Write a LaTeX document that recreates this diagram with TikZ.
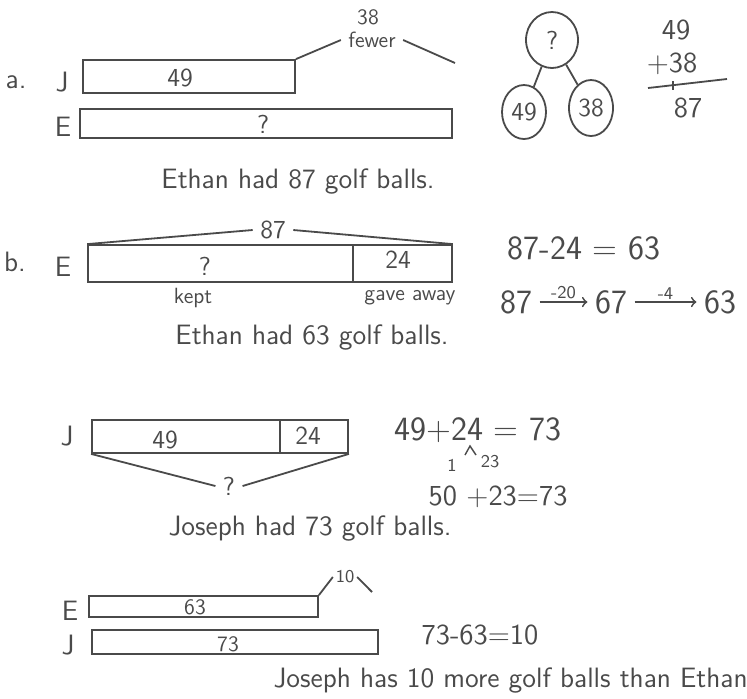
\documentclass[tikz,border=0pt]{standalone}
\usepackage{tikz}
\usetikzlibrary{shapes.geometric,fit}

\definecolor{ink}{HTML}{4A4A4A}

\tikzset{
  bar/.style={draw=ink,line width=0.9pt,inner sep=0pt},
  bubble/.style={ellipse,draw=ink,line width=0.9pt,inner sep=0pt},
  hw/.style={text=ink,font=\sffamily\fontsize{14}{16}\selectfont},
  num/.style={text=ink,font=\sffamily\fontsize{13}{15}\selectfont},
  sm/.style={text=ink,font=\sffamily\fontsize{11}{12}\selectfont},
  tiny/.style={text=ink,font=\sffamily\fontsize{9}{10}\selectfont,inner sep=1pt},
  eq/.style={text=ink,font=\sffamily\fontsize{17}{19}\selectfont},
  eqs/.style={text=ink,font=\sffamily\fontsize{14.5}{16}\selectfont},
}

\begin{document}
\begin{tikzpicture}[x=0.5pt,y=-0.5pt,>=to,ink,line width=0.9pt]
  \useasboundingbox (0,0) rectangle (747,698);

  % a.
  \node[hw] (la) at (16,82) {a.};
  \node[hw] (jAl) at (62,82) {J};
  \node[bar,fit={(83,60)(295,93)}] (jA) {};
  \node[num] (jAv) at (180,78) {49};
  \node[hw] (eAl) at (63,127) {E};
  \node[bar,fit={(80,109)(452,138)}] (eA) {};
  \node[num] (eAv) at (263,124) {?};
  \node[sm] (fewN) at (368,17) {38};
  \node[sm] (fewer) at (372,40) {fewer};
  \coordinate (fewEnd) at (455,63);
  \draw (jA.north east) -- (fewer.west);
  \draw (fewer.east) -- (fewEnd);

  \node[bubble,num,minimum width=26pt,minimum height=28pt] (whole) at (552,40) {?};
  \node[bubble,num,minimum width=22pt,minimum height=27pt] (partA) at (524,112) {49};
  \node[bubble,num,minimum width=22pt,minimum height=28pt] (partB) at (591,108) {38};
  \draw (whole) -- (partA);
  \draw (whole) -- (partB);

  \node[eqs] (addA) at (676,30) {49};
  \node[eqs] (addB) at (672,64) {+38};
  \node[eqs] (addSum) at (688,108) {87};
  \coordinate (ruleL) at (648,88);
  \coordinate (ruleR) at (727,79);
  \draw (ruleL) -- (ruleR);
  \draw (673,81) -- (673,90);

  \node[hw] (eAns) at (298,182) {Ethan had 87 golf balls.};

  % b.
  \node[hw] (lb) at (15,262) {b.};
  \node[hw] (eBl) at (63,267) {E};
  \node[bar,fit={(88,245)(353,282)}] (kept) {};
  \node[bar,fit={(353,245)(452,282)}] (gave) {};
  \node[num] (keptV) at (205,266) {?};
  \node[num] (gaveV) at (398,260) {24};
  \node[sm] (keptL) at (193,298) {kept};
  \node[sm] (gaveL) at (410,298) {gave away};
  \node[num] (tot) at (273,230) {87};
  \draw (kept.north west) -- (tot.west);
  \draw (tot.east) -- (gave.north east);

  \node[eq] (subB) at (584,248) {87-24 = 63};
  \node[eq] (s87) at (516,302) {87};
  \node[eq] (s67) at (611,302) {67};
  \node[eq] (s63) at (720,302) {63};
  \draw[->] (s87) -- node[tiny,above] {-20} (s67);
  \draw[->] (s67) -- node[tiny,above] {-4} (s63);

  \node[hw] (eBAns) at (312,337) {Ethan had 63 golf balls.};

  % c.
  \node[hw] (jCl) at (67,436) {J};
  \node[bar,fit={(92,420)(280,453)}] (jC1) {};
  \node[bar,fit={(280,420)(348,453)}] (jC2) {};
  \node[num] (jC1v) at (165,440) {49};
  \node[num] (jC2v) at (308,436) {24};
  \node[num] (sumC) at (229,486) {?};
  \draw (jC1.south west) -- (sumC.west);
  \draw (sumC.east) -- (jC2.south east);

  \node[eq] (addC) at (478,430) {49+24 = 73};
  \draw[line width=0.7pt] (465,455) -- (470,446) -- (476,455);
  \node[tiny] (one) at (452,465) {1};
  \node[tiny] (twothree) at (490,462) {23};
  \node[eqs] (addC2) at (498,497) {50 +23=73};

  \node[hw] (jAns) at (310,528) {Joseph had 73 golf balls.};

  % d.
  \node[hw] (eDl) at (70,611) {E};
  \node[bar,fit={(89,596)(318,617)}] (eD) {};
  \node[sm] (eDv) at (195,607) {63};
  \node[tiny] (diff) at (345,577) {10};
  \coordinate (diffEnd) at (372,592);
  \draw (eD.north east) -- (diff.west);
  \draw (diff.east) -- (diffEnd);
  \node[hw] (jDl) at (68,645) {J};
  \node[bar,fit={(92,630)(378,654)}] (jD) {};
  \node[sm] (jDv) at (228,644) {73};
  \node[eqs] (subD) at (480,635) {73-63=10};

  \node[hw,anchor=west] (ans) at (266,680) {Joseph has 10 more golf balls than Ethan};
\end{tikzpicture}
\end{document}
